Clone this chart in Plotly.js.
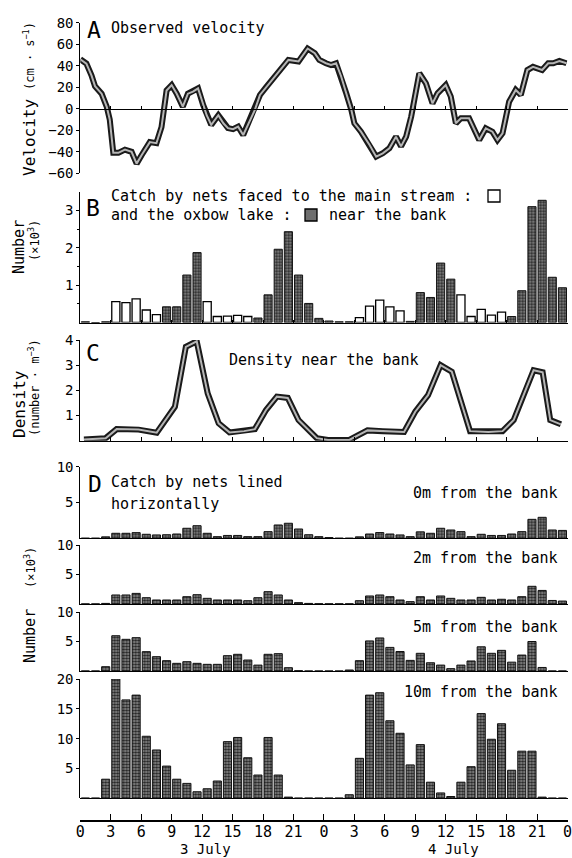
<!DOCTYPE html>
<html><head><meta charset="utf-8">
<script src="https://cdn.plot.ly/plotly-3.0.1.min.js"></script>
<style>body{margin:0;background:#fff}#chart{width:572px;height:858px}</style>
</head><body><div id="chart"></div>
<script>
// ---------------- data ----------------
const barHours = [0.5,1.5,2.5,3.5,4.5,5.5,6.5,7.5,8.5,9.5,10.5,11.5,12.5,13.5,14.5,15.5,16.5,17.5,18.5,19.5,20.5,21.5,22.5,23.5,24.5,25.5,26.5,27.5,28.5,29.5,30.5,31.5,32.5,33.5,34.5,35.5,36.5,37.5,38.5,39.5,40.5,41.5,42.5,43.5,44.5,45.5,46.5,47.5];

const velHours = [0,0.6,1.1,1.45,2.1,2.6,2.9,3.25,3.75,4.4,
  5.05,5.55,6.05,6.85,7.5,8.0,8.5,9.0,9.5,10.1,
  10.6,11.1,11.6,12.1,12.45,12.9,13.6,14.1,14.55,15.05,
  15.55,16.05,16.55,17.2,17.7,18.35,19.0,19.65,20.5,21.5,
  22.4,23.1,23.55,24.2,24.7,25.2,25.7,26.2,26.7,27.0,
  27.65,28.5,29.15,29.8,30.45,31.1,31.6,32.1,32.6,33.4,
  34.05,34.7,35.2,36.0,36.5,37.0,37.5,38.3,38.8,39.3,
  39.95,40.6,41.1,41.6,42.25,42.9,43.4,44.05,44.6,45.5,
  46.1,46.6,47.2,47.9];
const velocity = [46,42,31,21,14,2,-10,-41,-41,-38,
  -40,-51,-43,-31,-32,-17,17,22,14,2,
  14,16,19,3.5,-6,-15,-6,-13.5,-18,-19,
  -16.6,-24.4,-13.5,-1,12.8,20.6,28.3,36,45.4,44,
  56,51.6,45.4,42.3,40.7,42.3,30,14.4,-1,-13.5,
  -21.3,-33.7,-44.5,-41.4,-36.7,-26,-35,-26,-7.3,33,
  23.7,5,14.4,22,11.3,-13.5,-8.8,-8.8,-18.2,-29,
  -18.2,-21.3,-29,-22.8,6.6,17.5,12.8,36,39,36,
  42.3,42.3,44.4,42.3];

// Panel B: catch near the bank (x10^3); white = faced to main stream, gray = faced to oxbow lake
const catchMainStream = [null,null,null,0.56,0.53,0.63,0.335,0.21,null,null,null,null,0.56,0.16,0.17,0.19,0.16,null,null,null,null,null,null,null,null,null,null,0.13,0.44,0.6,0.42,0.31,null,null,null,null,null,0.74,0.16,0.35,0.2,0.28,null,null,null,null,null,null];
const catchOxbowLake  = [0.02,0,0.02,null,null,null,null,null,0.42,0.42,1.27,1.87,null,null,null,null,null,0.12,0.74,1.96,2.43,1.27,0.51,0.11,0.04,0.02,0.02,null,null,null,null,null,0.03,0.8,0.67,1.59,1.16,null,null,null,null,null,0.16,0.85,3.1,3.27,1.21,0.93];

const denHours = [0.36,2.5,3.58,5.74,7.53,9.32,10.4,11.47,12.55,13.63,14.7,16.14,17.2,18.3,19.37,20.44,21.5,23.3,24.4,26.5,28.3,29.8,31.9,33.0,34.26,35.5,36.6,38.4,40.2,41.6,42.7,43.8,44.66,45.55,46.3,47.35];
const density = [0.05,0.1,0.46,0.44,0.32,1.35,3.73,3.95,1.88,0.69,0.33,0.38,0.46,1.22,1.75,1.7,0.82,0.1,0.03,0.03,0.41,0.38,0.35,1.15,1.81,3.0,2.74,0.38,0.35,0.38,0.82,1.94,2.8,2.72,0.82,0.65];

// Panel D: catch by nets lined horizontally (x10^3)
const net0m = [0.02,0.02,0.2,0.7,0.7,0.79,0.56,0.47,0.5,0.6,1.4,1.76,0.7,0.23,0.4,0.4,0.23,0.23,0.93,1.86,2.1,1.3,0.5,0.23,0.1,0.02,0.02,0.2,0.6,0.8,0.6,0.47,0.23,0.9,0.7,1.4,1.16,0.93,0.23,0.56,0.4,0.4,0.6,0.93,2.65,2.93,1.16,1.1];
const net2m = [0.02,0.02,0.1,1.53,1.53,1.8,1.07,0.68,0.68,0.68,1.24,1.58,0.96,0.68,0.68,0.68,0.56,1.07,2.09,1.53,0.68,0.23,0.1,0.05,0.03,0.03,0.03,0.56,1.36,1.53,1.24,0.68,0.4,1.24,0.68,1.36,0.96,0.68,0.68,1.13,0.68,0.8,0.68,1.24,3.0,2.3,0.6,0.5];
const net5m = [0,0,0.73,5.98,5.37,5.65,3.28,2.43,1.75,1.3,1.58,1.3,1.13,1.13,2.6,2.83,1.86,1.0,2.83,2.94,0.56,0.05,0,0,0,0,0.17,1.75,5.1,5.6,4.0,3.3,1.8,3.0,1.4,1.0,0.4,1.0,1.7,4.1,3.0,3.5,1.5,2.7,5.0,0.6,0,0];
const net10m = [0.05,0.05,3.2,20,16.5,17.3,10.4,8.1,5.4,3.2,2.5,1.1,1.6,2.9,9.5,10.2,6.8,3.9,10.2,3.9,0.2,0.05,0.05,0.05,0.05,0.05,0.6,6.7,17.3,17.7,13,10.9,5.6,9.0,2.7,0.9,0.3,2.7,5.3,14.2,9.9,12.5,4.7,7.9,7.9,0.2,0.05,0.05];

const xTickVals = [0,3,6,9,12,15,18,21,24,27,30,33,36,39,42,45,48];
const xTickText = ['0','3','6','9','12','15','18','21','0','3','6','9','12','15','18','21','0'];

// ---------------- layout helpers ----------------
const W = 572, H = 858;
const px = v => v / W;
const py = v => 1 - v / H;
const FONT = 'DejaVu Sans Mono, monospace';
const xDom = [px(80.3), px(567.5)];

const grayMarker = {
  color: '#7a7a7a',
  line: {color: '#111', width: 1},
  pattern: {shape: '.', fgcolor: '#222', bgcolor: '#8e8e8e', size: 3, solidity: 0.5}
};
const whiteMarker = {color: '#fff', line: {color: '#000', width: 1.3}};
const BW = 0.8;

const traces = [
  {x: velHours, y: velocity, xaxis: 'x', yaxis: 'y', mode: 'lines', line: {color: '#1a1a1a', width: 6}, hoverinfo: 'skip'},
  {x: velHours, y: velocity, xaxis: 'x', yaxis: 'y', mode: 'lines', line: {color: '#b5b5b5', width: 2}, hoverinfo: 'skip'},
  {type: 'bar', x: barHours, y: catchMainStream, xaxis: 'x2', yaxis: 'y2', width: BW, marker: whiteMarker},
  {type: 'bar', x: barHours, y: catchOxbowLake, xaxis: 'x2', yaxis: 'y2', width: BW, marker: grayMarker},
  {x: denHours, y: density, xaxis: 'x3', yaxis: 'y3', mode: 'lines', line: {color: '#1a1a1a', width: 6}},
  {x: denHours, y: density, xaxis: 'x3', yaxis: 'y3', mode: 'lines', line: {color: '#b5b5b5', width: 2}},
  {type: 'bar', x: barHours, y: net0m, xaxis: 'x4', yaxis: 'y4', width: BW, marker: grayMarker},
  {type: 'bar', x: barHours, y: net2m, xaxis: 'x5', yaxis: 'y5', width: BW, marker: grayMarker},
  {type: 'bar', x: barHours, y: net5m, xaxis: 'x6', yaxis: 'y6', width: BW, marker: grayMarker},
  {type: 'bar', x: barHours, y: net10m, xaxis: 'x7', yaxis: 'y7', width: BW, marker: grayMarker}
];

const axBase = {showgrid: false, zeroline: false, showline: true, linecolor: '#000', linewidth: 1,
  tickcolor: '#000', tickfont: {family: FONT, size: 14, color: '#000'}, fixedrange: true};
const xBase = Object.assign({}, axBase, {domain: xDom, range: [0, 48], tickmode: 'array', tickvals: xTickVals, showticklabels: false});
const yBase = Object.assign({}, axBase, {ticks: 'outside', ticklen: 3, tickmode: 'array'});

const layout = {
  width: W, height: H,
  margin: {l: 0, r: 0, t: 0, b: 0},
  paper_bgcolor: '#fff', plot_bgcolor: 'rgba(0,0,0,0)',
  showlegend: false, barmode: 'overlay',
  font: {family: FONT, color: '#000'},
  xaxis:  Object.assign({}, xBase, {anchor: 'free', position: py(108.8), ticks: 'inside', ticklen: 3}),
  xaxis2: Object.assign({}, xBase, {anchor: 'y2', ticks: 'inside', ticklen: 3}),
  xaxis3: Object.assign({}, xBase, {anchor: 'y3', ticks: 'inside', ticklen: 4}),
  xaxis4: Object.assign({}, xBase, {anchor: 'y4', ticks: ''}),
  xaxis5: Object.assign({}, xBase, {anchor: 'y5', ticks: ''}),
  xaxis6: Object.assign({}, xBase, {anchor: 'y6', ticks: ''}),
  xaxis7: Object.assign({}, xBase, {anchor: 'free', position: py(820), ticks: 'inside', ticklen: 6, linewidth: 1.5,
            showticklabels: true, ticktext: xTickText, ticklabeloverflow: 'allow', ticklabelstandoff: -3,
            tickfont: {family: FONT, size: 15, color: '#000'}}),
  yaxis:  Object.assign({}, yBase, {anchor: 'x', domain: [py(173.3), py(22.7)], range: [-60, 80], tickvals: [-60,-40,-20,0,20,40,60,80]}),
  yaxis2: Object.assign({}, yBase, {anchor: 'x2', domain: [py(322.5), py(191.7)], range: [0, 3.5], tickvals: [1,2,3],
            minor: {tickmode: 'array', tickvals: [0.5,1.5,2.5], ticks: 'outside', ticklen: 2, tickcolor: '#000'}}),
  yaxis3: Object.assign({}, yBase, {anchor: 'x3', domain: [py(440.7), py(340)], range: [0, 4], tickvals: [1,2,3,4]}),
  yaxis4: Object.assign({}, yBase, {anchor: 'x4', domain: [py(538.3), py(466.7)], range: [0, 10], tickvals: [5,10]}),
  yaxis5: Object.assign({}, yBase, {anchor: 'x5', domain: [py(604), py(545)], range: [0, 10], tickvals: [5,10]}),
  yaxis6: Object.assign({}, yBase, {anchor: 'x6', domain: [py(671), py(612)], range: [0, 10], tickvals: [5,10]}),
  yaxis7: Object.assign({}, yBase, {anchor: 'x7', domain: [py(798.3), py(679)], range: [0, 20], tickvals: [5,10,15,20],
            zeroline: true, zerolinecolor: '#000', zerolinewidth: 1})
};

function ann(text, x, y, opts) {
  return Object.assign({text: text, x: px(x), y: py(y), xref: 'paper', yref: 'paper', showarrow: false,
    xanchor: 'left', yanchor: 'middle', font: {family: FONT, size: 15, color: '#000'}}, opts || {});
}
function rot(text, x, y, size) {
  return ann(text, x, y, {textangle: -90, xanchor: 'center', yanchor: 'middle', font: {family: FONT, size: size, color: '#000'}});
}

layout.annotations = [
  ann('A', 85, 30, {font: {family: FONT, size: 23, color: '#000'}}),
  ann('Observed velocity', 109, 28),
  ann('B', 84, 208, {font: {family: FONT, size: 23, color: '#000'}}),
  ann('Catch by nets faced to the main stream :', 109, 196.5),
  ann('and the oxbow lake :', 109, 215),
  ann('near the bank', 327, 215),
  ann('C', 84, 353, {font: {family: FONT, size: 23, color: '#000'}}),
  ann('Density near the bank', 227, 360),
  ann('D', 86, 484, {font: {family: FONT, size: 23, color: '#000'}}),
  ann('Catch by nets lined', 109, 482),
  ann('horizontally', 109, 504),
  ann('0m from the bank', 560, 493, {xanchor: 'right'}),
  ann('2m from the bank', 560, 558, {xanchor: 'right'}),
  ann('5m from the bank', 560, 626.5, {xanchor: 'right'}),
  ann('10m from the bank', 560, 692, {xanchor: 'right'}),
  ann('3 July', 205, 849, {xanchor: 'center', font: {family: FONT, size: 14, color: '#000'}}),
  ann('4 July', 453, 849, {xanchor: 'center', font: {family: FONT, size: 14, color: '#000'}}),
  rot('Velocity', 29, 138, 16),
  rot('(cm · s<sup>−1</sup>)', 29, 56, 12),
  rot('Number', 19, 247, 15),
  rot('(×10<sup>3</sup>)', 34, 241, 12),
  rot('Density', 19, 404, 16),
  rot('(number · m<sup>−3</sup>)', 34, 388, 12),
  rot('Number', 30, 636, 15),
  rot('(×10<sup>3</sup>)', 30, 568, 12)
];

layout.shapes = [
  {type: 'rect', xref: 'paper', yref: 'paper', x0: px(488), x1: px(500), y0: py(202), y1: py(190), fillcolor: '#fff', line: {color: '#000', width: 1.3}},
  {type: 'rect', xref: 'paper', yref: 'paper', x0: px(305), x1: px(317), y0: py(221), y1: py(209), fillcolor: '#6e6e6e', line: {color: '#000', width: 1.3}}
];

Plotly.newPlot('chart', traces, layout, {staticPlot: true, displayModeBar: false});
</script>
</body></html>
